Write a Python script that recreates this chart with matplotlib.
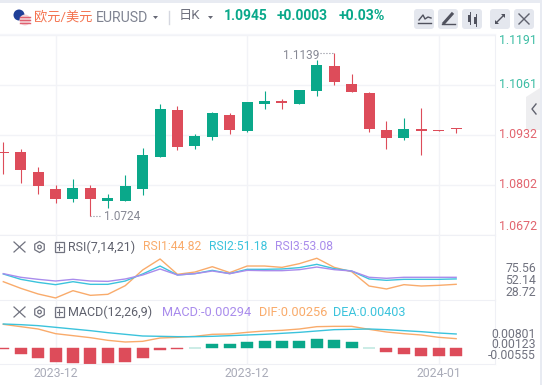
import matplotlib
matplotlib.use('Agg')
import matplotlib.pyplot as plt
from matplotlib.patches import Circle, FancyBboxPatch, Polygon, Rectangle, RegularPolygon

plt.rcParams['font.family'] = ['Roboto', 'Noto Sans CJK SC', 'DejaVu Sans']

# daily candles
opens = [1.0886, 1.0886, 1.0834, 1.0790, 1.0764, 1.0793, 1.0759, 1.0759, 1.0790, 1.0873, 1.0995, 1.0902, 1.0925, 1.0982, 1.0941,
         1.1010, 1.1018, 1.1010, 1.1044, 1.1109, 1.1062, 1.1039, 1.0943, 1.0922, 1.0946, 1.0943, 1.0948]
highs = [1.0912, 1.0894, 1.0847, 1.0801, 1.0816, 1.0801, 1.0777, 1.0827, 1.0897, 1.1010, 1.1005, 1.0933, 1.0990, 1.0987, 1.1016,
         1.1044, 1.1023, 1.1047, 1.1124, 1.1143, 1.1088, 1.1042, 1.0966, 1.0974, 1.1000, 1.0943, 1.0948]
lows = [1.0829, 1.0806, 1.0777, 1.0754, 1.0757, 1.0720, 1.0741, 1.0759, 1.0775, 1.0873, 1.0891, 1.0894, 1.0917, 1.0933, 1.0938,
        1.0998, 1.0998, 1.1010, 1.1031, 1.1060, 1.1042, 1.0938, 1.0894, 1.0917, 1.0878, 1.0941, 1.0935]
closes = [1.0884, 1.0840, 1.0798, 1.0764, 1.0793, 1.0764, 1.0767, 1.0798, 1.0878, 1.0998, 1.0899, 1.0928, 1.0987, 1.0943, 1.1016,
          1.1018, 1.1013, 1.1047, 1.1111, 1.1067, 1.1042, 1.0946, 1.0922, 1.0946, 1.0941, 1.0941, 1.0946]

rsi1 = [47.9, 40.1, 33.4, 28.72, 37.3, 31.8, 33.0, 43.2, 61.7, 74.7, 56.6, 59.3, 65.6, 58.6, 66.4, 66.4, 64.8, 69.2, 75.56, 64.8,
        59.7, 42.8, 39.3, 44.4, 42.8, 43.6, 44.82]
rsi2 = [57.0, 50.7, 47.1, 44.4, 47.9, 44.8, 44.8, 48.7, 57.0, 66.4, 55.8, 57.4, 61.3, 57.4, 62.5, 62.5, 62.9, 64.5, 68.4, 63.3,
        60.5, 51.1, 49.5, 50.7, 50.7, 50.7, 51.18]
rsi3 = [57.4, 53.1, 50.7, 48.7, 50.7, 48.7, 48.3, 51.1, 55.8, 62.9, 55.8, 57.4, 60.5, 57.4, 61.3, 60.9, 60.9, 62.1, 65.2, 62.1,
        60.5, 53.1, 51.9, 53.1, 53.1, 53.1, 53.08]

dif = [.00821, .00740, .00659, .00497, .00428, .00358, .00266, .00208, .00231, .00347, .00370, .00405, .00474, .00486, .00543,
       .00590, .00613, .00659, .00740, .00751, .00751, .00647, .00555, .00497, .00451, .00370, .00324]
dea = [.00832, .00809, .00775, .00717, .00659, .00601, .00532, .00474, .00416, .00405, .00393, .00393, .00405, .00428, .00451,
       .00474, .00509, .00543, .00590, .00636, .00647, .00659, .00636, .00601, .00566, .00520, .00486]
macd = [-.00023, -.00208, -.00347, -.00486, -.00520, -.00555, -.00532, -.00486, -.00347, -.00069, -.00023, .00012, .00139, .00139,
        .00208, .00243, .00243, .00243, .00312, .00277, .00208, .00012, -.00139, -.00208, -.00277, -.00277, -.00294]

price_ticks = [1.0672, 1.0802, 1.0932, 1.1061, 1.1191]
date_labels = ['2023-12', '2023-12', '2024-01']
date_pos = [3, 14, 25]

GREEN = '#0aa88a'
RED = '#dd4c5a'
ORANGE = '#f9ab6b'
CYAN = '#3bc3dc'
PURPLE = '#a98cec'
GRID = '#f2f3f7'
W, H = 542, 385
XMIN, XMAX = -0.19, 28.23


def panel(top, bottom):
    return fig.add_axes([0, 1 - bottom / H, 495 / W, (bottom - top) / H])


fig = plt.figure(figsize=(W / 100, H / 100), dpi=100, facecolor='white')

# main candle panel
ax = panel(34.5, 235)
ax.set_ylim(1.0672, 1.1191)
ax.set_yticks(price_ticks)
for i in range(len(opens)):
    up = closes[i] >= opens[i]
    col = GREEN if up else RED
    ax.vlines(i, lows[i], highs[i], color=col, lw=0.8, zorder=3)
    ax.bar(i, max(abs(closes[i] - opens[i]), 0.0001), bottom=min(opens[i], closes[i]), width=0.63, color=col, zorder=3)
ax.plot([18.2, 19], [highs[19], highs[19]], ls=':', color='#8a8c99', lw=0.8)
ax.annotate('1.1139', (18.2, highs[19]), xytext=(-0.5, -2), textcoords='offset points', ha='right', va='center',
            color='#868894', fontsize=8.5)
ax.plot([5, 5.6], [lows[5], lows[5]], ls=':', color='#8a8c99', lw=0.8)
ax.annotate('1.0724', (5.6, lows[5]), xytext=(2, 0), textcoords='offset points', ha='left', va='center',
            color='#868894', fontsize=8.5)

# RSI panel
ax_rsi = panel(235, 300)
ax_rsi.set_ylim(26.3, 103)
ax_rsi.set_yticks([])
ax_rsi.plot(rsi1, color=ORANGE, lw=1)
ax_rsi.plot(rsi2, color=CYAN, lw=1)
ax_rsi.plot(rsi3, color=PURPLE, lw=1)

# MACD panel
ax_macd = panel(300, 364)
ax_macd.set_ylim(-.00555, .016646)
ax_macd.set_yticks([])
ax_macd.plot(dif, color=ORANGE, lw=1)
ax_macd.plot(dea, color=CYAN, lw=1)
bar_cols = [GREEN if v > 0 else RED for v in macd]
ax_macd.bar(range(len(macd)), macd, width=0.69, color=bar_cols, edgecolor=bar_cols, linewidth=0.3)
ax_macd.set_xticks(date_pos)
ax_macd.set_xticklabels(date_labels, color='#a9abb8', fontsize=8.8)
ax_macd.tick_params(axis='x', length=0, pad=2)

for a in (ax, ax_rsi, ax_macd):
    a.set_xlim(XMIN, XMAX)
    a.set_facecolor('none')
    a.set_axisbelow(True)
    for s in a.spines.values():
        s.set_visible(False)
    a.spines['bottom'].set_visible(True)
    a.spines['bottom'].set_color('#eff0f5')
    a.spines['right'].set_visible(True)
    a.spines['right'].set_color('#eff0f5')
    a.tick_params(length=0, labelleft=False)
    a.xaxis.grid(True, color=GRID, lw=1)
    if a is not ax_macd:
        a.set_xticks(date_pos)
        a.tick_params(labelbottom=False)
ax.yaxis.grid(True, color=GRID, lw=1)

# overlay in pixels for header, icons and axis labels
ov = fig.add_axes([0, 0, 1, 1], zorder=10)
ov.set_xlim(0, W)
ov.set_ylim(H, 0)
ov.axis('off')
ov.patch.set_alpha(0)

ov.add_patch(Rectangle((0, 0), W, 3, color='#e8ebf2', lw=0))
ov.add_patch(Rectangle((540, 0), 2, H, color='#e8ebf2', lw=0))
ov.plot([0, 495], [33.5, 33.5], color='#f5f6fa', lw=1)
ov.add_patch(Polygon([[526, 130], [526, 97], [540, 88], [540, 130]], color='#eeeef0', lw=0))
ov.plot([536, 532, 536], [104, 109, 114], color='#60626e', lw=1)


def label(x, y, s, col, size=8.5, ha='left', weight='normal'):
    ov.text(x, y, s, color=col, fontsize=size, ha=ha, va='center', fontweight=weight)


# flags
ov.add_patch(Circle((19, 15), 5.5, color='#1f3f98', lw=0))
ov.add_patch(Circle((25, 20), 5.5, color='#f3d5d8', lw=0))
for yy in (16.5, 19.5, 22.5):
    ov.plot([20, 30], [yy, yy], color='#e06070', lw=1)

label(34, 17, '欧元/美元', '#f4734f', 9.5)
label(96, 18, 'EURUSD', '#7f8391', 10.2)
ov.add_patch(Polygon([[153, 16], [158, 16], [155.5, 19]], color='#666875', lw=0))
ov.plot([169, 169], [11, 24], color='#d5d7e0', lw=1)
label(179, 16, '日K', '#70727f', 9.5)
ov.add_patch(Polygon([[208, 16], [213, 16], [210.5, 19]], color='#666875', lw=0))
label(224, 16, '1.0945', GREEN, 10, weight='bold')
label(277, 16, '+0.0003', GREEN, 10, weight='bold')
label(339, 16, '+0.03%', GREEN, 10.2, weight='bold')

# toolbar buttons
for bx in (414, 438, 462, 490, 514):
    ov.add_patch(FancyBboxPatch((bx + 2, 11), 16, 16, boxstyle='round,pad=2,rounding_size=3', fc='#e4e7ee', ec='none'))
ov.plot([419, 423, 425, 428, 431], [20, 15, 19, 17, 18], color='#50525e', lw=1)
ov.plot([418, 431], [23, 23], color='#50525e', lw=1)
ov.plot([444, 452], [23, 14], color='#50525e', lw=2.2)
ov.plot([442, 455], [24, 24], color='#50525e', lw=1)
ov.add_patch(Rectangle((468, 15), 3, 7, color='#50525e', lw=0))
ov.add_patch(Rectangle((474, 17), 3, 7, color='#50525e', lw=0))
ov.plot([469.5, 469.5], [12, 24], color='#50525e', lw=0.7)
ov.plot([475.5, 475.5], [14, 26], color='#50525e', lw=0.7)
ov.plot([496, 504], [23, 15], color='#50525e', lw=1)
ov.add_patch(Polygon([[501, 14], [505, 14], [505, 18]], color='#50525e', lw=0))
ov.add_patch(Polygon([[495, 20], [495, 24], [499, 24]], color='#50525e', lw=0))
ov.plot([519, 529], [14, 24], color='#60626e', lw=1)
ov.plot([529, 519], [14, 24], color='#60626e', lw=1)

# price axis labels
label(537, 41, '1.1191', '#3cbda4', 8.9, ha='right')
label(537, 85, '1.1061', '#3cbda4', 8.9, ha='right')
label(537, 135, '1.0932', '#e2656f', 8.9, ha='right')
label(537, 185, '1.0802', '#e2656f', 8.9, ha='right')
label(537, 227, '1.0672', '#e2656f', 8.9, ha='right')

# indicator headers
for yy, name in ((247, 'RSI(7,14,21)'), (312, 'MACD(12,26,9)')):
    ov.plot([14, 25], [yy - 5, yy + 5], color='#70727f', lw=0.9)
    ov.plot([25, 14], [yy - 5, yy + 5], color='#70727f', lw=0.9)
    ov.add_patch(RegularPolygon((39.5, yy), 6, radius=5.5, fill=False, ec='#70727f', lw=0.9))
    ov.add_patch(Circle((39.5, yy), 1.8, fill=False, ec='#70727f', lw=0.9))
    ov.add_patch(Rectangle((54.5, yy - 5), 9.5, 10, fill=False, ec='#70727f', lw=0.9))
    ov.plot([56.5, 62], [yy, yy], color='#70727f', lw=0.8)
    ov.plot([59.2, 59.2], [yy - 3, yy + 3], color='#70727f', lw=0.8)
    label(68, yy, name, '#5f616d', 9)
label(143, 247, 'RSI1:44.82', ORANGE, 8.7)
label(209, 247, 'RSI2:51.18', CYAN, 8.7)
label(275, 247, 'RSI3:53.08', PURPLE, 8.7)
label(162, 312, 'MACD:-0.00294', PURPLE, 9.2)
label(259, 312, 'DIF:0.00256', ORANGE, 9.2)
label(333, 312, 'DEA:0.00403', CYAN, 9.1)

# indicator value labels
for yy, s in ((269, '75.56'), (280.7, '52.14'), (292.3, '28.72'), (334, '0.00801'), (344.5, '0.00123'), (355.5, '-0.00555')):
    label(536, yy, s, '#70727f', 8.8, ha='right')

fig.savefig('out.png', dpi=100, facecolor='white')
